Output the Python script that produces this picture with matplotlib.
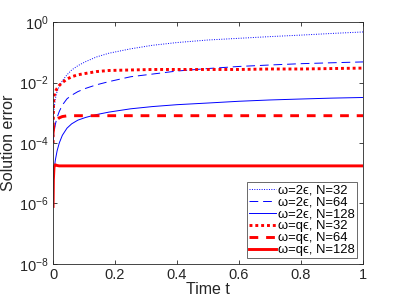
import numpy as np
import matplotlib
matplotlib.use("Agg")
import matplotlib.pyplot as plt

plt.rcParams['font.family'] = ['Liberation Sans', 'DejaVu Sans']

# time samples
t = [0, 0.001, 0.003, 0.007, 0.013, 0.02, 0.03, 0.045, 0.06, 0.08, 0.105,
     0.14, 0.18, 0.25, 0.32, 0.4, 0.5, 0.6, 0.7, 0.8, 0.9, 1.0]

# omega = 2 eps
err_2e_32 = [5e-4, 8e-4, 1.3e-3, 2.8e-3, 5e-3, 7.5e-3, 0.0115, 0.018, 0.026, 0.036, 0.049,
             0.07, 0.093, 0.13, 0.17, 0.21, 0.255, 0.29, 0.33, 0.37, 0.42, 0.47]
err_2e_64 = [1e-4, 1.5e-4, 2.2e-4, 4e-4, 7e-4, 1.1e-3, 1.8e-3, 2.9e-3, 3.8e-3, 5e-3, 6.4e-3,
             8.4e-3, 0.0107, 0.0155, 0.019, 0.024, 0.029, 0.034, 0.038, 0.042, 0.045, 0.048]
err_2e_128 = [3e-6, 6e-6, 1.2e-5, 2.6e-5, 5.5e-5, 1e-4, 1.8e-4, 3.1e-4, 4.3e-4, 5.7e-4, 7e-4,
              8.7e-4, 1.05e-3, 1.35e-3, 1.6e-3, 1.85e-3, 2.1e-3, 2.4e-3, 2.65e-3, 2.85e-3, 3.05e-3, 3.2e-3]

# omega = q eps
err_qe_32 = [1e-4, 1.5e-3, 3.5e-3, 5e-3, 6.4e-3, 8e-3, 0.01, 0.013, 0.0155, 0.018, 0.02,
             0.023, 0.025, 0.026, 0.027, 0.027, 0.027, 0.027, 0.028, 0.028, 0.029, 0.03]
err_qe_64 = [2e-4, 3e-4, 4e-4, 5e-4, 6e-4, 6.8e-4, 7.5e-4, 7.9e-4, 8e-4, 8e-4, 8e-4,
             8e-4, 8e-4, 8e-4, 8e-4, 8e-4, 8e-4, 8e-4, 8e-4, 8e-4, 8e-4, 8e-4]
err_qe_128 = [8e-7, 6e-6, 1.6e-5, 1.9e-5, 1.8e-5, 1.75e-5, 1.75e-5, 1.75e-5, 1.75e-5, 1.75e-5, 1.75e-5,
              1.75e-5, 1.75e-5, 1.75e-5, 1.75e-5, 1.75e-5, 1.75e-5, 1.75e-5, 1.75e-5, 1.75e-5, 1.75e-5, 1.75e-5]

labels = ['ω=2ϵ, N=32', 'ω=2ϵ, N=64', 'ω=2ϵ, N=128',
          'ω=qϵ, N=32', 'ω=qϵ, N=64', 'ω=qϵ, N=128']

fig = plt.figure(figsize=(4.02, 3.02), dpi=100)
ax = fig.add_axes([0.132, 0.126, 0.771, 0.801])

blue = '#0000ff'
red = '#ff0000'
ax.plot(t, err_2e_32, color=blue, lw=0.7, ls=(0, (1, 1.5)), label=labels[0])
ax.plot(t, err_2e_64, color=blue, lw=0.7, ls=(0, (9, 5)), label=labels[1])
ax.plot(t, err_2e_128, color=blue, lw=0.7, ls='-', label=labels[2])
ax.plot(t, err_qe_32, color=red, lw=2.1, ls=(0, (1, 1)), label=labels[3])
ax.plot(t, err_qe_64, color=red, lw=2.1, ls=(0, (3, 2.7)), label=labels[4])
ax.plot(t, err_qe_128, color=red, lw=2.1, ls='-', label=labels[5])

ax.set_yscale('log')
ax.set_xlim(0, 1)
ax.set_ylim(1e-8, 1)
ax.set_yticks([1e-8, 1e-6, 1e-4, 1e-2, 1e0])
ax.yaxis.set_minor_locator(matplotlib.ticker.NullLocator())
ax.set_xticks([0, 0.2, 0.4, 0.6, 0.8, 1])
ax.set_xticklabels(['0', '0.2', '0.4', '0.6', '0.8', '1'])
ax.tick_params(direction='in', top=True, right=True, labelsize=10.5, length=3,
               width=0.6, color='#262626', labelcolor='#262626', pad=3)
for s in ax.spines.values():
    s.set_linewidth(0.6)
    s.set_color('#262626')

ax.set_xlabel('Time t', fontsize=11.5, color='#262626', labelpad=0)
ax.set_ylabel('Solution error', fontsize=11.5, color='#262626', labelpad=2)

leg = ax.legend(loc='lower right', bbox_to_anchor=(357 / 402, (302 - 258) / 302),
                bbox_transform=fig.transFigure, fontsize=9.4, frameon=True, fancybox=False,
                edgecolor='#262626', handlelength=2.0, handleheight=0.5, handletextpad=0.2,
                borderpad=0.15, labelspacing=0.0, borderaxespad=0.0)
leg.get_frame().set_linewidth(0.6)

fig.savefig('out.png', dpi=100)
